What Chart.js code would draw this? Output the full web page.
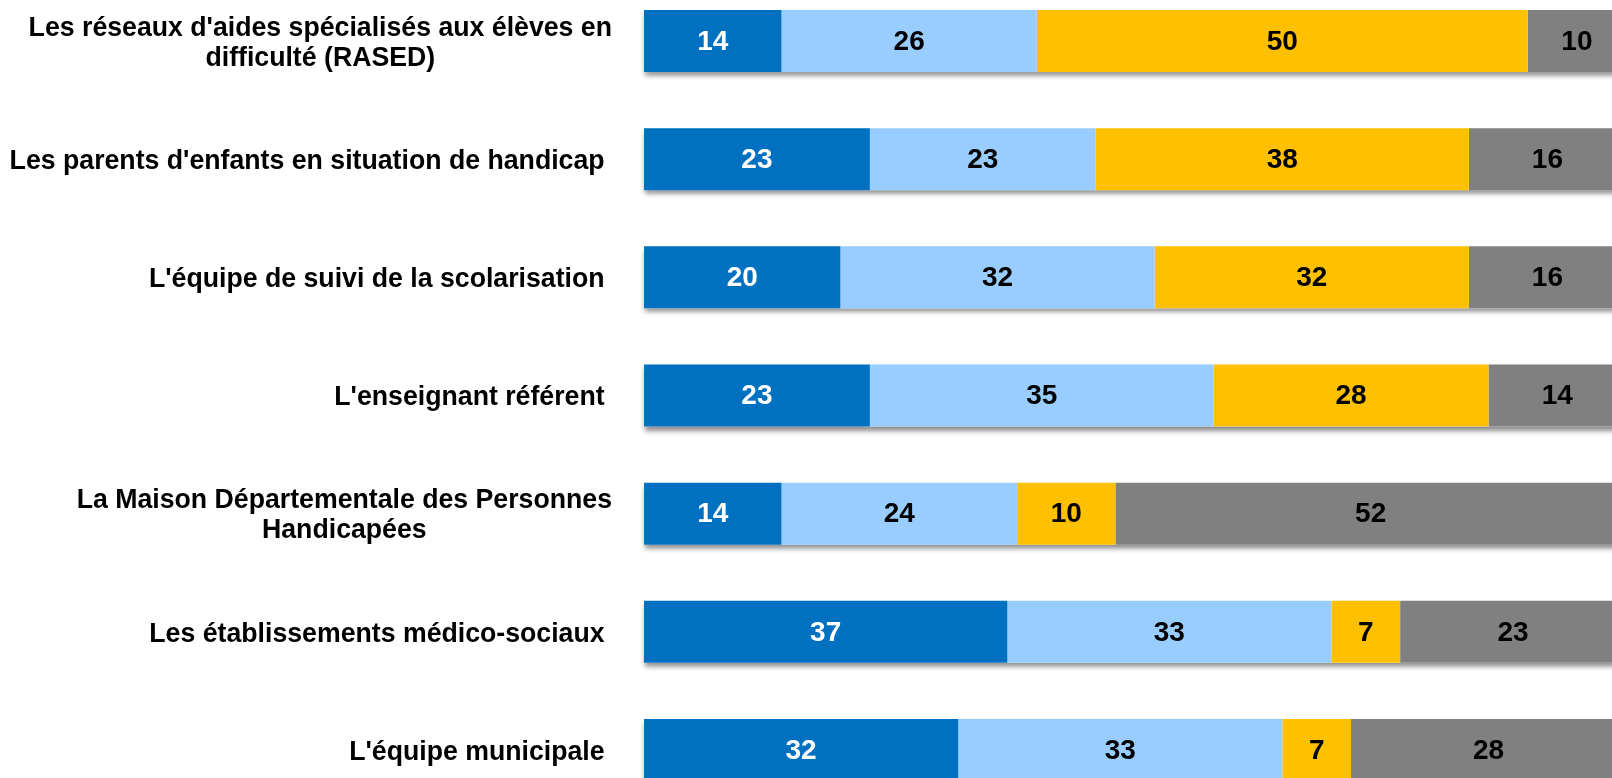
<!DOCTYPE html>
<html lang="fr">
<head>
<meta charset="UTF-8">
<title>Partenaires</title>
<script src="https://cdn.jsdelivr.net/npm/chart.js"></script>
<style>
    html, body {
        margin: 0;
        padding: 0;
        background: #fff;
        overflow: hidden;
        width: 1612px;
        height: 778px;
    }
    #wrap {
        position: absolute;
        left: 0;
        top: -18px;
        width: 1626px;
        height: 827px;
    }
</style>
</head>
<body>
<div id="wrap"><canvas id="barChart"></canvas></div>
<script>
// categories (trailing space kept as in the source labels)
var categories = [
    "Les réseaux d'aides spécialisés aux élèves en\ndifficulté (RASED)",
    "Les parents d'enfants en situation de handicap ",
    "L'équipe de suivi de la scolarisation ",
    "L'enseignant référent ",
    "La Maison Départementale des Personnes\nHandicapées",
    "Les établissements médico-sociaux ",
    "L'équipe municipale "
];

var serie1 = [14, 23, 20, 23, 14, 37, 32];
var serie2 = [26, 23, 32, 35, 24, 33, 33];
var serie3 = [50, 38, 32, 28, 10, 7, 7];
var serie4 = [10, 16, 16, 14, 52, 23, 28];

var colors = ['#0070C0', '#99CCFF', '#FFC000', '#808080'];
var labelColors = ['#ffffff', '#000000', '#000000', '#000000'];

var labelFont = 'bold 28px "Liberation Sans", Arial, sans-serif';
var valueFont = 'bold 28px "Liberation Sans", Arial, sans-serif';
var labelRight = 612;
var labelSqueeze = 0.953;   // the source text is a bit condensed
var lineHeight = 30;

// white rect with a soft shadow under each full bar
var barShadow = {
    id: 'barShadow',
    beforeDatasetsDraw: function (chart) {
        var ctx = chart.ctx;
        var first = chart.getDatasetMeta(0).data;
        var last = chart.getDatasetMeta(chart.data.datasets.length - 1).data;
        ctx.save();
        ctx.shadowColor = 'rgba(0,0,0,0.45)';
        ctx.shadowBlur = 5;
        ctx.shadowOffsetX = 1;
        ctx.shadowOffsetY = 4;
        ctx.fillStyle = '#ffffff';
        for (var i = 0; i < first.length; i++) {
            var a = first[i], b = last[i];
            ctx.fillRect(a.base, a.y - a.height / 2, b.x - a.base, a.height);
        }
        ctx.restore();
    }
};

// values in the middle of each segment
var valueLabels = {
    id: 'valueLabels',
    afterDatasetsDraw: function (chart) {
        var ctx = chart.ctx;
        ctx.save();
        ctx.font = valueFont;
        ctx.textAlign = 'center';
        ctx.textBaseline = 'middle';
        chart.data.datasets.forEach(function (ds, d) {
            ctx.fillStyle = labelColors[d];
            chart.getDatasetMeta(d).data.forEach(function (el, i) {
                var p = el.getCenterPoint();
                ctx.fillText(ds.data[i], p.x, p.y + 1);
            });
        });
        ctx.restore();
    }
};

// category labels: lines centred on each other, block right aligned
var categoryLabels = {
    id: 'categoryLabels',
    afterDraw: function (chart) {
        var ctx = chart.ctx;
        var yScale = chart.scales.y;
        ctx.save();
        ctx.font = labelFont;
        ctx.fillStyle = '#000000';
        ctx.textAlign = 'center';
        ctx.textBaseline = 'middle';
        ctx.scale(labelSqueeze, 1);
        chart.data.labels.forEach(function (label, i) {
            var lines = label.split('\n');
            var w = 0;
            lines.forEach(function (l) { w = Math.max(w, ctx.measureText(l).width); });
            var cx = labelRight / labelSqueeze - w / 2;
            var cy = yScale.getPixelForValue(i) + 2;
            var y0 = cy - (lines.length - 1) * lineHeight / 2;
            lines.forEach(function (l, k) {
                ctx.fillText(l, cx, y0 + k * lineHeight);
            });
        });
        ctx.restore();
    }
};

var barData = {
    labels: categories,
    datasets: [serie1, serie2, serie3, serie4].map(function (values, d) {
        return {
            data: values,
            backgroundColor: colors[d],
            borderWidth: 0,
            categoryPercentage: 1,
            barPercentage: 0.525
        };
    })
};

var barOptions = {
    indexAxis: 'y',
    responsive: true,
    maintainAspectRatio: false,
    animation: false,
    layout: { padding: 0 },
    plugins: {
        legend: { display: false },
        tooltip: { enabled: false }
    },
    scales: {
        x: {
            stacked: true,
            min: 0,
            max: 100,
            display: false
        },
        y: {
            stacked: true,
            grid: { display: false },
            border: { display: false },
            ticks: { display: false },
            afterFit: function (scale) { scale.width = 644; }
        }
    }
};

var ctxBar = document.getElementById('barChart').getContext('2d');
var myBarChart = new Chart(ctxBar, {
    type: 'bar',
    data: barData,
    options: barOptions,
    plugins: [barShadow, valueLabels, categoryLabels]
});
</script>
</body>
</html>
